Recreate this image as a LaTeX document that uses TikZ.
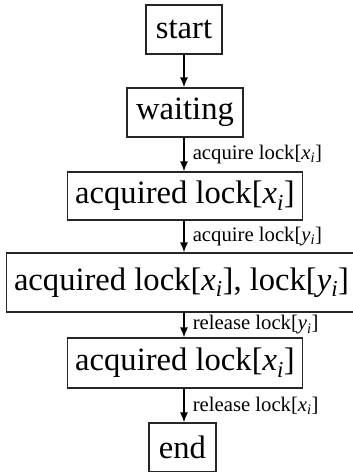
\documentclass[tikz,border=0pt]{standalone}
\usepackage{fontspec}
\setmainfont{Liberation Serif}
\usetikzlibrary{arrows.meta, positioning}

\newcommand{\lockvar}[2]{\textit{#1}\textsubscript{\textit{#2}}}

\tikzset{
    statebox/.style={draw=black!85, line width=1.1pt, inner xsep=7.5pt, font=\fontsize{32.6}{36}\selectfont},
    trans/.style={-{Latex[length=10pt, width=8pt]}, line width=1.6pt},
    translabel/.style={anchor=west, xshift=6pt, inner sep=2pt, font=\fontsize{20.7}{23}\selectfont}
}

\begin{document}
\begin{tikzpicture}[x=1pt, y=1pt]
            \useasboundingbox (0, 0) rectangle (353, -472);

            \node [statebox, minimum height=49pt, minimum width=76pt] (start)   at (184, -29.5)  { start };
            \node [statebox, minimum height=49pt, minimum width=116pt] (waiting) at (185, -112.5) { waiting };
            \node [statebox, minimum height=48pt, minimum width=234pt] (lockx)   at (185, -196)   { acquired lock[\lockvar{x}{i}] };
            \node [statebox, minimum height=59pt, minimum width=344pt] (lockxy)  at (181.5, -282.5) { acquired lock[\lockvar{x}{i}], lock[\lockvar{y}{i}] };
            \node [statebox, minimum height=50pt, minimum width=234pt] (lockxb)  at (185, -363)   { acquired lock[\lockvar{x}{i}] };
            \node [statebox, minimum height=49pt, minimum width=67pt] (end)     at (182.5, -447.5) { end };

            \draw [trans] (start.south -| 184, 0) -- (waiting.north -| 184, 0);
            \draw [trans] (waiting.south -| 184, 0) -- node [translabel] {acquire lock[\lockvar{x}{i}]} (lockx.north -| 184, 0);
            \draw [trans] (lockx.south -| 184, 0) -- node [translabel] {acquire lock[\lockvar{y}{i}]} (lockxy.north -| 184, 0);
            \draw [trans] (lockxy.south -| 184, 0) -- node [translabel] {release lock[\lockvar{y}{i}]} (lockxb.north -| 184, 0);
            \draw [trans] (lockxb.south -| 184, 0) -- node [translabel] {release lock[\lockvar{x}{i}]} (end.north -| 184, 0);

        \end{tikzpicture}
\end{document}
